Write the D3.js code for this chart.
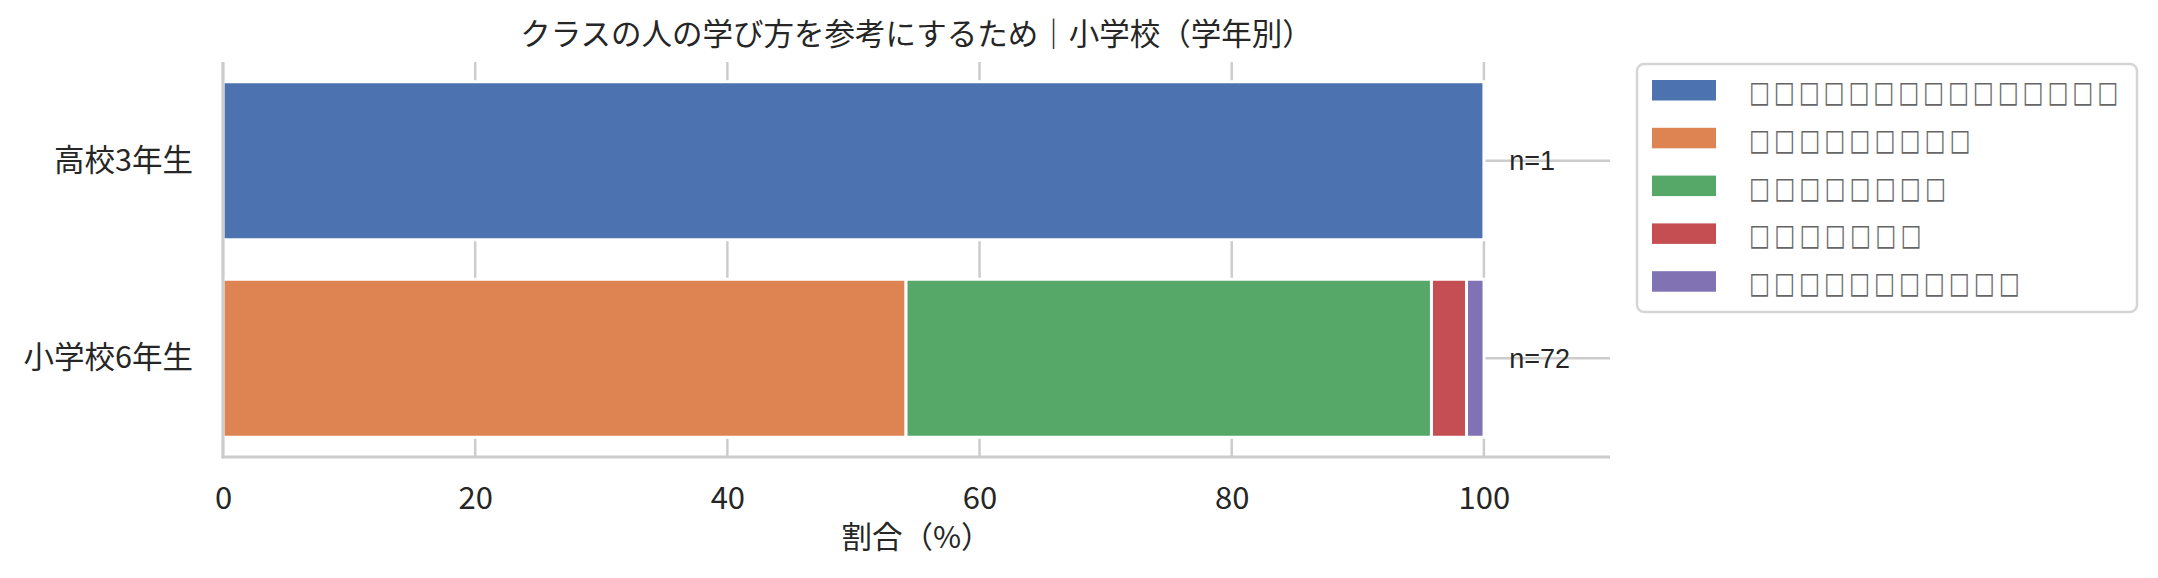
<!DOCTYPE html>
<html><head><meta charset="utf-8">
<script src="https://cdn.jsdelivr.net/npm/d3@7/dist/d3.min.js"></script>
<style>
html,body{margin:0;padding:0;background:#fff;}
svg{display:block;}
</style></head>
<body>
<svg id="chart" width="2158" height="578"></svg>
<script>
// ---- data ----
const title = "クラスの人の学び方を参考にするため｜小学校（学年別）";
const xLabel = "割合（%）";
const categories = ["高校3年生", "小学校6年生"];
const nCounts = [1, 72];
const seriesKeys = ["s1", "s2", "s3", "s4", "s5"];
// legend labels were rendered as missing-glyph boxes in the reference
const legendBoxCounts = [15, 9, 8, 7, 11];
const legendLabels = legendBoxCounts.map(n => "□".repeat(n));
const s1 = [100, 0];
const s2 = [0, 54.17];
const s3 = [0, 41.67];
const s4 = [0, 2.78];
const s5 = [0, 1.39];
const colors = ["#4c72b0", "#dd8452", "#55a868", "#c44e52", "#8172b3"];
const xTicks = [0, 20, 40, 60, 80, 100];
const xDomain = [0, 110];

// ---- layout ----
const L = 223, R = 1610, T = 62, B = 457;
const svg = d3.select("#chart");
const JP = "'Noto Sans CJK JP', 'Noto Sans', sans-serif";
const grid = "#cccccc";

const rows = categories.map((c, i) => ({cat: c, s1: s1[i], s2: s2[i], s3: s3[i], s4: s4[i], s5: s5[i]}));
const stack = d3.stack().keys(seriesKeys)(rows);

const x = d3.scaleLinear().domain(xDomain).range([L, R]);
const y = d3.scaleBand().domain(categories).range([T, B]).padding(0.2).paddingOuter(0.1);

// grid lines
svg.append("g").selectAll("line.v").data(xTicks).join("line")
  .attr("x1", d => x(d)).attr("x2", d => x(d)).attr("y1", T).attr("y2", B)
  .attr("stroke", grid).attr("stroke-width", 2.5);
svg.append("g").selectAll("line.h").data(categories).join("line")
  .attr("x1", L).attr("x2", R).attr("y1", d => y(d) + y.bandwidth()/2).attr("y2", d => y(d) + y.bandwidth()/2)
  .attr("stroke", grid).attr("stroke-width", 2.5);

// bars
svg.append("g").selectAll("g").data(stack).join("g")
  .attr("fill", (d, i) => colors[i])
  .selectAll("rect").data(d => d.filter(p => p[1] - p[0] > 0)).join("rect")
  .attr("x", d => x(d[0])).attr("width", d => x(d[1]) - x(d[0]))
  .attr("y", d => y(d.data.cat)).attr("height", y.bandwidth())
  .attr("stroke", "#fff").attr("stroke-width", 3);

// spines
svg.append("line").attr("x1", L).attr("x2", L).attr("y1", T).attr("y2", B + 1.5)
  .attr("stroke", grid).attr("stroke-width", 3);
svg.append("line").attr("x1", L - 1.5).attr("x2", R).attr("y1", B).attr("y2", B)
  .attr("stroke", grid).attr("stroke-width", 3);

// axes
const xAxis = svg.append("g").attr("transform", `translate(0,${B})`)
  .call(d3.axisBottom(x).tickValues(xTicks).tickSize(0).tickPadding(30).tickFormat(d3.format("d")));
xAxis.select(".domain").remove();
xAxis.selectAll("text").attr("font-family", JP).attr("font-size", 31).attr("fill", "#262626");

const yAxis = svg.append("g").attr("transform", `translate(${L},0)`)
  .call(d3.axisLeft(y).tickSize(0).tickPadding(30));
yAxis.select(".domain").remove();
yAxis.selectAll("text").attr("font-family", JP).attr("font-size", 30.5).attr("fill", "#262626");

// n labels
svg.append("g").selectAll("text").data(categories).join("text")
  .attr("x", x(102)).attr("y", d => y(d) + y.bandwidth()/2).attr("dy", "0.35em")
  .attr("font-family", "'Liberation Sans', Arial, sans-serif").attr("font-size", 27).attr("fill", "#262626")
  .text((d, i) => "n=" + nCounts[i]);

// title
svg.append("text").attr("x", (L + R)/2).attr("y", 45).attr("text-anchor", "middle")
  .attr("font-family", JP).attr("font-size", 30.5).attr("fill", "#262626").text(title);

// x label
svg.append("text").attr("x", (L + R)/2).attr("y", 548).attr("text-anchor", "middle")
  .attr("font-family", JP).attr("font-size", 30.5).attr("fill", "#262626").text(xLabel);

// legend
const lg = svg.append("g");
lg.append("rect").attr("x", 1637).attr("y", 64).attr("width", 500).attr("height", 248)
  .attr("rx", 7).attr("fill", "#fff").attr("stroke", "#d5d5d5").attr("stroke-width", 2.5);
const items = lg.selectAll("g.item").data(seriesKeys).join("g")
  .attr("transform", (d, i) => `translate(1652,${80 + i*47.8})`);
items.append("rect").attr("width", 64).attr("height", 20.5).attr("fill", (d, i) => colors[i]);
items.append("text").attr("transform", "translate(97,22) scale(1,1.35)")
  .attr("font-family", "'DejaVu Sans', sans-serif").attr("font-size", 22).attr("fill", "#666")
  .attr("textLength", (d, i) => legendBoxCounts[i]*24.6).attr("lengthAdjust", "spacing")
  .text((d, i) => legendLabels[i]);
</script>
</body></html>
